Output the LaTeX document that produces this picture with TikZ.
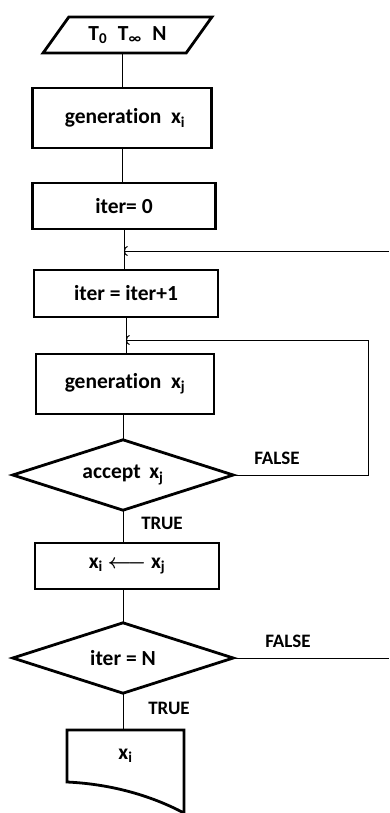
\documentclass[tikz,border=0pt]{standalone}
\usepackage{amsmath}
\usepackage{fontspec}
\setmainfont{Carlito}[Ligatures=NoCommon]
\usetikzlibrary{calc,arrows.meta,shapes.geometric}
\definecolor{ink}{HTML}{000000}
\tikzset{
  txt/.style={font=\fontsize{21.5}{24}\selectfont\bfseries},
  rim/.style={draw=ink, line width=2.8pt, line join=miter},
  box/.style={txt, rim, rectangle, minimum width=183pt, minimum height=46pt, inner sep=0pt},
  dec/.style={txt, rectangle, minimum width=220pt, minimum height=70pt, inner sep=0pt},
  io/.style={txt, rim, trapezium, trapezium left angle=45, trapezium right angle=135, trapezium stretches=true, inner sep=0pt},
  conn/.style={draw=ink, line width=1pt},
  back/.style={conn, -{Arc Barb[length=3.5pt,width=10pt]}},
  lab/.style={font=\fontsize{19}{22}\selectfont\bfseries, inner sep=0pt}
}

\begin{document}
\begin{tikzpicture}[x=1pt,y=-1pt]
  \useasboundingbox (0,0) rectangle (389,813);
  % main column
  \node[io, minimum width=169pt, minimum height=36pt] (in) at (127.5,35) {T\textsubscript{0}\hspace{0.5em}T\textsubscript{∞}\hspace{0.5em}N};
  \node[box, minimum width=179pt, minimum height=60pt] (geni) at (122,118) {\hspace{6pt}generation\hspace{0.45em}x\textsubscript{i}};
  \node[box] (it0) at (124,206) {iter= 0};
  \node[box, minimum width=184pt, minimum height=47pt] (inc) at (126,293.5) {iter = iter+1};
  \node[box, minimum width=178pt, minimum height=60pt] (genj) at (125,384) {generation\hspace{0.45em}x\textsubscript{j}};
  \node[dec] (acc) at (123,475) {accept\hspace{0.4em}x\textsubscript{j}};
  \node[box, minimum width=184pt] (swap) at (127,566) {x\textsubscript{i} $\boldsymbol{\longleftarrow}$ x\textsubscript{j}};
  \node[dec] (stop) at (123,658) {iter = N};
  \node[txt] (out) at (125.5,756) {x\textsubscript{i}};

  % decision outlines
  \draw[rim] (acc.west) -- (acc.north) -- (acc.east) -- (acc.south) -- cycle;
  \draw[rim] (stop.west) -- (stop.north) -- (stop.east) -- (stop.south) -- cycle;

  % output document
  \coordinate (dtl) at (67,730);
  \coordinate (dtr) at (184,730);
  \draw[rim] (dtl) -- (dtr) -- (184,813)
    .. controls (150,795) and (110,784) .. (67,782) -- cycle;

  % branch labels
  \node[lab] (f1) at (277,458) {FALSE};
  \node[lab] (t1) at (162,523) {TRUE};
  \node[lab] (f2) at (288,641) {FALSE};
  \node[lab] (t2) at (169,708) {TRUE};

  \draw[conn] (geni.north) -- (geni.north |- in.south);
  \draw[conn] (geni.south) -- (geni.south |- it0.north);
  \draw[conn] (it0.south) -- (it0.south |- inc.north);
  \draw[conn] (inc.south) -- (inc.south |- genj.north);
  \draw[conn] (acc.north) -- (acc.north |- genj.south);
  \draw[conn] (acc.south) -- (acc.south |- swap.north);
  \draw[conn] (stop.north) -- (stop.north |- swap.south);
  \draw[conn] (stop.south) -- (stop.south |- dtl);

  % loops back
  \coordinate (r1) at (389,251);
  \coordinate (lp) at (368,340);
  \coordinate (r2) at (389,658);
  \draw[back] (r1) -- (r1 -| it0.south);
  \draw[back] (acc.east) -- (acc.east -| lp) -- (lp) -- (lp -| inc.south);
  \draw[conn] (stop.east) -- (r2);
\end{tikzpicture}
\end{document}
